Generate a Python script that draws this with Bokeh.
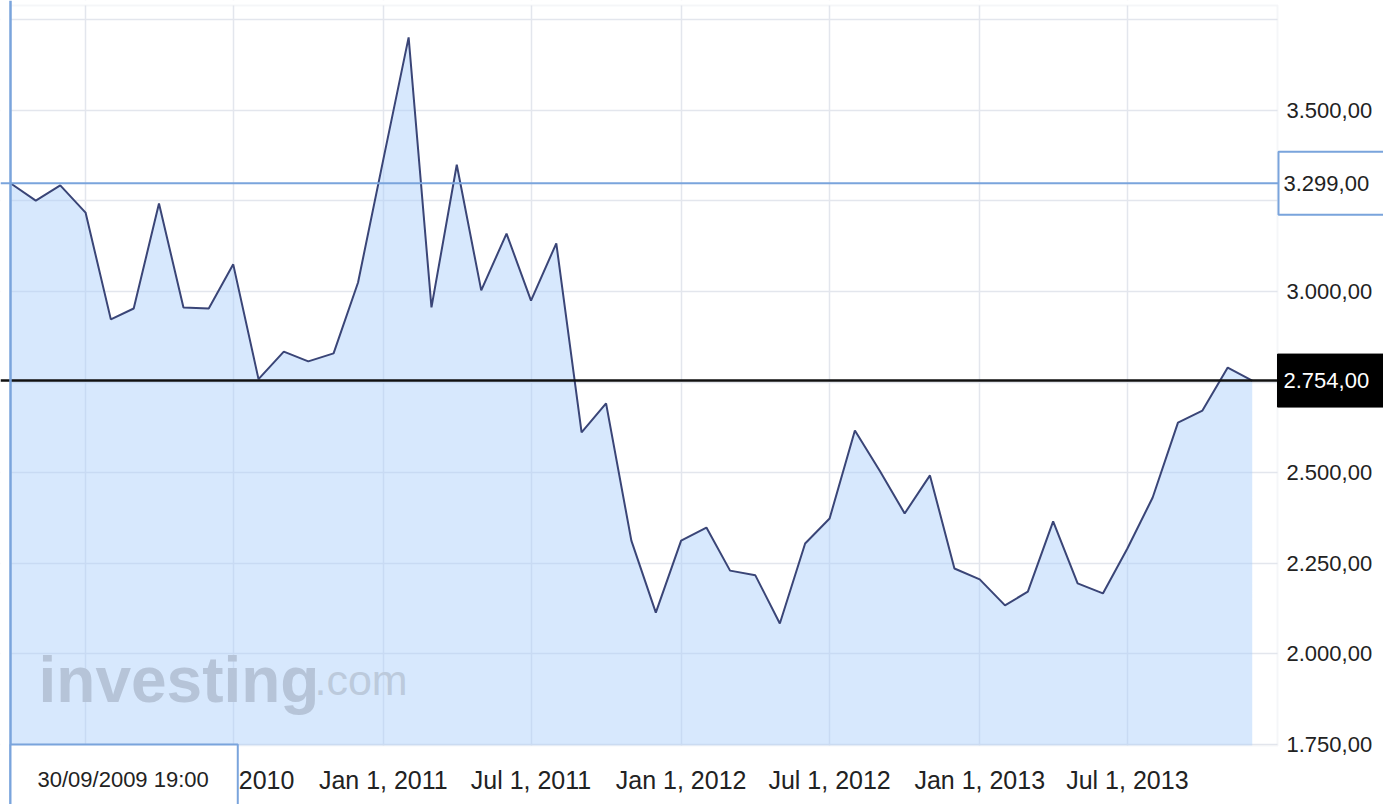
from datetime import datetime
import pandas as pd
from bokeh.plotting import figure
from bokeh.models import Range1d, FixedTicker, Span, Label, DatetimeTickFormatter, BoxAnnotation
from bokeh.embed import file_html
from bokeh.resources import INLINE

# ---- data ----
months = pd.date_range("2009-10-01", periods=51, freq="MS")
prices = [3299, 3251, 3293, 3218, 2923, 2953, 3243, 2956, 2953, 3075,
          2758, 2834, 2807, 2829, 3025, 3365, 3702, 2956, 3350, 3003,
          3160, 2975, 3133, 2611, 2691, 2312, 2113, 2312, 2348, 2229,
          2216, 2083, 2304, 2373, 2616, 2503, 2387, 2492, 2235, 2205,
          2133, 2171, 2365, 2194, 2166, 2290, 2431, 2638, 2671, 2790,
          2754]
y_ticks = [1750, 2000, 2250, 2500, 2750, 3000, 3250, 3500, 3750]
y_tick_labels = ["1.750,00", "2.000,00", "2.250,00", "2.500,00", "",
                 "3.000,00", "", "3.500,00", ""]
x_ticks = ["2010-01-01", "2010-07-01", "2011-01-01", "2011-07-01",
           "2012-01-01", "2012-07-01", "2013-01-01", "2013-07-01"]
first_price = 3299
first_label = "3.299,00"
last_price = 2754
last_label = "2.754,00"
start_label = "30/09/2009 19:00"

# ---- geometry (pixels) ----
W, H = 1383, 804
AREA_L, AREA_R, AREA_T, AREA_B = 10, 1277, 5, 745
chart_start = pd.Timestamp("2009-10-01").value / 1e6
chart_end = pd.Timestamp("2014-01-01").value / 1e6
y_lo, y_hi = 1746, 3790
ms_px = (chart_end - chart_start) / (AREA_R - AREA_L)
v_px = (y_hi - y_lo) / (AREA_B - AREA_T)
y_top = y_hi + AREA_T * v_px


def y_at(py):
    return y_top - py * v_px


FONT = "Liberation Sans"

p = figure(width=W, height=H, x_axis_type="datetime", y_axis_location="right",
           toolbar_location=None, output_backend="svg",
           x_range=Range1d(chart_start - AREA_L * ms_px, chart_end + (W - AREA_R) * ms_px),
           y_range=Range1d(y_lo - (H - AREA_B) * v_px, y_top),
           min_border=0)
p.outline_line_color = None
p.background_fill_color = "white"
p.border_fill_color = "white"

# grid
p.xgrid.grid_line_color = "#e3e6ed"
p.xgrid.grid_line_width = 1.5
p.ygrid.grid_line_color = "#e3e6ed"
p.ygrid.grid_line_width = 1.5

# white covers outside the chart area (hide grid there)
for kw in (dict(left=chart_end), dict(right=chart_start), dict(top=y_lo), dict(bottom=y_hi)):
    p.add_layout(BoxAnnotation(fill_color="white", fill_alpha=1, line_color=None,
                               level="underlay", **kw))

# area + line
p.varea(x=months, y1=y_lo, y2=prices, fill_color="#a6cdfa", fill_alpha=0.45)
p.line(x=months, y=prices, line_color="#3a4577", line_width=2)

# chart area border
p.add_layout(BoxAnnotation(left=chart_start, right=chart_end, bottom=y_lo, top=y_hi,
                           fill_alpha=0, line_color="#dde1e8", line_width=2))

# reference lines
p.add_layout(Span(location=first_price, dimension="width", line_color="#7aa4dc", line_width=2))
p.add_layout(Span(location=last_price, dimension="width", line_color="#111111", line_width=2.5))
p.add_layout(Span(location=chart_start, dimension="height", line_color="#7aa4dc", line_width=2.5))

# x axis
xa = p.xaxis[0]
xa.fixed_location = y_lo
xa.ticker = FixedTicker(ticks=[pd.Timestamp(t).value / 1e6 for t in x_ticks])
fmt = "%b %-d, %Y"
xa.formatter = DatetimeTickFormatter(days=fmt, months=fmt, years=fmt, hours=fmt)
xa.axis_line_color = None
xa.major_tick_line_color = None
xa.minor_tick_line_color = None
xa.major_tick_out = 0
xa.major_tick_in = 0
xa.major_label_text_font = FONT
xa.major_label_text_font_size = "25px"
xa.major_label_text_color = "#222222"
xa.major_label_standoff = 20

# y axis
ya = p.yaxis[0]
ya.fixed_location = chart_end
ya.ticker = FixedTicker(ticks=y_ticks)
ya.major_label_overrides = {t: l for t, l in zip(y_ticks, y_tick_labels)}
ya.axis_line_color = None
ya.major_tick_line_color = None
ya.minor_tick_line_color = None
ya.major_tick_out = 0
ya.major_tick_in = 0
ya.major_label_text_font = FONT
ya.major_label_text_font_size = "22px"
ya.major_label_text_color = "#222222"
ya.major_label_standoff = 9

# watermark
p.add_layout(Label(x=38, x_units="screen", y=y_at(679), text="investing", text_font=FONT,
                   text_font_style="bold", text_font_size="64px", text_color="#b6c4d8",
                   text_baseline="alphabetic"))
p.add_layout(Label(x=314, x_units="screen", y=y_at(679), text=".com", text_font=FONT,
                   text_font_size="43px", text_color="#bccadc", text_baseline="alphabetic"))

# price boxes on the right
p.add_layout(Label(x=AREA_R + 1, x_units="screen", y=first_price, text=first_label, text_font=FONT,
                   text_font_size="22px", text_color="#222222", text_baseline="middle",
                   background_fill_color="white", border_line_color="#7aa4dc", border_line_width=2,
                   padding=dict(left=5, right=20, top=24, bottom=24)))
p.add_layout(Label(x=AREA_R, x_units="screen", y=last_price, text=last_label, text_font=FONT,
                   text_font_size="22px", text_color="white", text_baseline="middle",
                   background_fill_color="black", border_line_color="black",
                   padding=dict(left=6, right=20, top=19, bottom=19)))

# start date box
p.add_layout(Label(x=AREA_L, x_units="screen", y=y_at(AREA_B - 1), text=start_label, text_font=FONT,
                   text_font_size="22px", text_color="#222222", anchor="top_left",
                   background_fill_color="white", border_line_color="#7aa4dc", border_line_width=2,
                   padding=dict(left=27, right=29, top=22, bottom=40)))

open("out.html", "w").write(file_html(p, INLINE))
